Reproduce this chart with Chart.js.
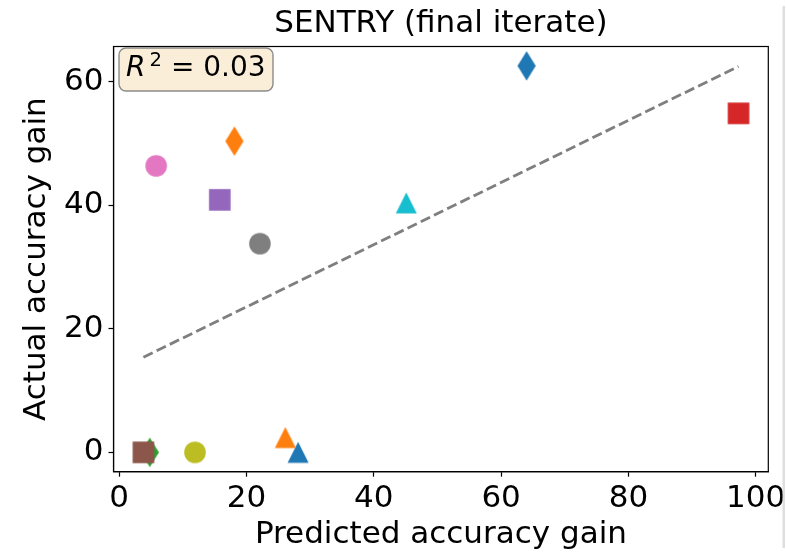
<!DOCTYPE html>
<html>
<head>
<meta charset="utf-8">
<script src="https://cdn.jsdelivr.net/npm/chart.js@4/dist/chart.umd.min.js"></script>
<style>
  html, body { margin: 0; padding: 0; background: #fff; }
  #wrap { position: relative; width: 786px; height: 556px; }
</style>
</head>
<body>
<div id="wrap"><canvas id="c" width="786" height="556"></canvas></div>
<script>
// Predicted vs. actual accuracy gain, one marker per run
const predictedGain = [64.0, 18.1, 4.8, 97.3, 15.8, 3.8, 5.8, 22.1, 11.9, 45.1, 28.1, 26.1];
const actualGain    = [62.6, 50.4, 0.0, 54.9, 40.9, 0.0, 46.4, 33.8, 0.0, 40.4, 0.0, 2.4];
const markerShapes  = ['diamond', 'diamond', 'diamond', 'square', 'square', 'square',
                       'circle', 'circle', 'circle', 'triangle', 'triangle', 'triangle'];
const markerColors  = ['#1f77b4', '#ff7f0e', '#2ca02c', '#d62728', '#9467bd', '#8c564b',
                       '#e377c2', '#7f7f7f', '#bcbd22', '#17becf', '#1f77b4', '#ff7f0e'];

// Reference line end points
const fitX = [3.8, 97.3];
const fitY = [15.4, 62.5];

const xTicks = [0, 20, 40, 60, 80, 100];
const yTicks = [0, 20, 40, 60];
const rSquared = '0.03';

const FONT = 'DejaVu Sans';
const FS = 31;
const BOX_FS = 28;

// Marker sprites
function sprite(shape, color) {
  const c = document.createElement('canvas');
  let w, h;
  if (shape === 'diamond') { w = 20; h = 32; }
  else { w = 24; h = 24; }
  c.width = w; c.height = h;
  const g = c.getContext('2d');
  g.fillStyle = color;
  const cx = w / 2, cy = h / 2;
  g.beginPath();
  if (shape === 'diamond') {
    g.moveTo(cx, cy - 14.8); g.lineTo(cx + 9.1, cy); g.lineTo(cx, cy + 14.8); g.lineTo(cx - 9.1, cy);
  } else if (shape === 'square') {
    g.rect(cx - 10.8, cy - 10.8, 21.6, 21.6);
  } else if (shape === 'circle') {
    g.arc(cx, cy, 10.8, 0, Math.PI * 2);
  } else {
    g.moveTo(cx, cy - 10.5); g.lineTo(cx + 10.5, cy + 10.5); g.lineTo(cx - 10.5, cy + 10.5);
  }
  g.closePath();
  g.fill();
  return c;
}

const pointSprites = markerShapes.map((s, i) => sprite(s, markerColors[i]));

const framePlugin = {
  id: 'frame',
  afterDatasetsDraw(chart) {
    const { ctx, chartArea: a } = chart;
    ctx.save();
    ctx.strokeStyle = '#000';
    ctx.lineWidth = 1.2;
    ctx.strokeRect(a.left, a.top, a.right - a.left, a.bottom - a.top);
    ctx.restore();
  },
  afterDraw(chart) {
    const { ctx, chartArea: a } = chart;
    ctx.save();
    // R² annotation box
    const bx = a.left + 5.5, by = a.top + 1.5, bw = 154, bh = 43;
    ctx.beginPath();
    ctx.roundRect(bx, by, bw, bh, 7);
    ctx.fillStyle = 'rgba(245, 222, 179, 0.5)';
    ctx.fill();
    ctx.strokeStyle = 'rgba(128, 128, 128, 0.9)';
    ctx.lineWidth = 1.4;
    ctx.stroke();
    ctx.fillStyle = '#000';
    ctx.textBaseline = 'alphabetic';
    ctx.textAlign = 'left';
    const base = by + 28;
    ctx.font = `italic ${BOX_FS}px "${FONT}"`;
    ctx.fillText('R', bx + 7, base);
    ctx.font = `${BOX_FS * 0.7}px "${FONT}"`;
    ctx.fillText('2', bx + 30.5, base - 10);
    ctx.font = `${BOX_FS}px "${FONT}"`;
    ctx.fillText(' = ' + rSquared, bx + 43, base);
    // thin light border on the right edge of the figure
    ctx.fillStyle = '#dedede';
    ctx.fillRect(782.5, 6, 2.5, 542);
    ctx.restore();
  }
};

const tickFont = { family: FONT, size: FS };

new Chart(document.getElementById('c'), {
  type: 'scatter',
  data: {
    datasets: [
      {
        data: fitX.map((x, i) => ({ x, y: fitY[i] })),
        showLine: true,
        borderColor: '#7f7f7f',
        borderWidth: 2.8,
        borderDash: [10.3, 4.4],
        pointRadius: 0,
        fill: false
      },
      {
        data: predictedGain.map((x, i) => ({ x, y: actualGain[i] })),
        pointStyle: pointSprites,
        pointRadius: 11,
        pointHoverRadius: 11
      }
    ]
  },
  options: {
    responsive: false,
    animation: false,
    layout: { padding: { left: 0, right: 17.7, top: 0, bottom: 0 } },
    plugins: {
      legend: { display: false },
      tooltip: { enabled: false },
      title: {
        display: true,
        text: 'SENTRY (final iterate)',
        color: '#000',
        font: { family: FONT, size: FS, weight: 'normal' },
        fullSize: false,
        padding: { top: 5.5, bottom: 3.8 }
      }
    },
    scales: {
      x: {
        type: 'linear',
        min: -0.9,
        max: 101.98,
        afterBuildTicks: s => { s.ticks = xTicks.map(v => ({ value: v })); },
        afterFit: s => { s.height = 84.3; s.paddingLeft = 0; s.paddingRight = 0; },
        ticks: { color: '#000', font: tickFont, padding: 3.8, maxRotation: 0 },
        grid: { drawOnChartArea: false, drawTicks: true, tickLength: 5, tickColor: '#000', tickWidth: 1.2 },
        border: { display: true, color: '#000', width: 1.2 },
        title: {
          display: true,
          text: 'Predicted accuracy gain',
          color: '#000',
          font: tickFont,
          padding: { top: 0, bottom: 2 }
        }
      },
      y: {
        type: 'linear',
        min: -3.13,
        max: 65.73,
        afterBuildTicks: s => { s.ticks = yTicks.map(v => ({ value: v })); },
        afterFit: s => { s.width = 113.5; s.paddingTop = 0; s.paddingBottom = 0; },
        ticks: { color: '#000', font: tickFont, padding: 5 },
        grid: { drawOnChartArea: false, drawTicks: true, tickLength: 5, tickColor: '#000', tickWidth: 1.2 },
        border: { display: true, color: '#000', width: 1.2 },
        title: {
          display: true,
          text: 'Actual accuracy gain',
          color: '#000',
          font: tickFont,
          padding: { top: 18.5, bottom: 0 }
        }
      }
    }
  },
  plugins: [framePlugin]
});
</script>
</body>
</html>
